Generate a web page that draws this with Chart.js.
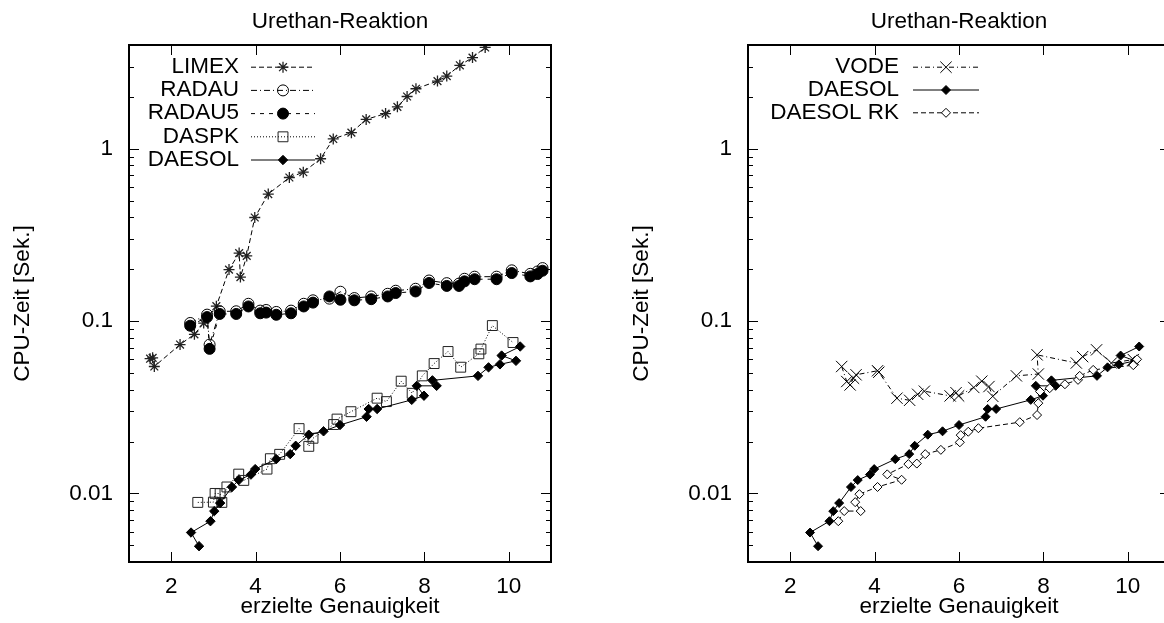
<!DOCTYPE html>
<html>
<head>
<meta charset="utf-8">
<script src="https://cdn.jsdelivr.net/npm/chart.js@4.4.0/dist/chart.umd.min.js"></script>
<style>
  html, body { margin: 0; padding: 0; background: #fff; overflow: hidden; }
  body { width: 1164px; height: 623px; position: relative; }
  canvas { position: absolute; top: 0; }
  #leftCanvas { left: 1px; }
  #rightCanvas { left: 620px; }
</style>
</head>
<body>
<canvas id="leftCanvas" width="560" height="623"></canvas>
<canvas id="rightCanvas" width="560" height="623"></canvas>
<script>
// values: x = erzielte Genauigkeit, y = CPU-Zeit [Sek.]
const limexAcc = [1.50, 1.56, 1.60, 2.21, 2.55, 2.77, 3.07, 3.37, 3.61, 3.64, 3.79, 3.98, 4.30, 4.80, 5.13, 5.54, 5.84, 6.27, 6.62, 7.08, 7.36, 7.59, 7.80, 8.31, 8.53, 8.84, 9.14, 9.44];
const limexCpu = [0.0605, 0.0612, 0.0545, 0.0731, 0.0838, 0.0974, 0.122, 0.199, 0.248, 0.180, 0.239, 0.399, 0.546, 0.681, 0.731, 0.875, 1.14, 1.24, 1.48, 1.60, 1.75, 2.01, 2.23, 2.47, 2.64, 3.05, 3.38, 3.87];

const radauAcc = [2.45, 2.85, 2.91, 3.15, 3.54, 3.83, 4.11, 4.25, 4.49, 4.84, 5.14, 5.36, 5.75, 6.01, 6.34, 6.74, 7.13, 7.32, 7.79, 8.11, 8.53, 8.82, 8.95, 9.19, 9.71, 10.07, 10.51, 10.68, 10.80];
const radauCpu = [0.0975, 0.109, 0.0730, 0.114, 0.114, 0.126, 0.115, 0.116, 0.113, 0.115, 0.126, 0.132, 0.135, 0.148, 0.136, 0.139, 0.144, 0.150, 0.154, 0.172, 0.166, 0.165, 0.176, 0.181, 0.181, 0.197, 0.188, 0.194, 0.203];

const radau5Acc = [2.45, 2.85, 2.91, 3.15, 3.54, 3.83, 4.11, 4.25, 4.49, 4.84, 5.14, 5.36, 5.75, 6.01, 6.34, 6.74, 7.13, 7.32, 7.79, 8.11, 8.53, 8.82, 8.95, 9.19, 9.71, 10.07, 10.51, 10.68, 10.80];
const radau5Cpu = [0.0940, 0.1055, 0.0690, 0.110, 0.110, 0.1216, 0.111, 0.112, 0.1088, 0.111, 0.1216, 0.128, 0.139, 0.133, 0.132, 0.134, 0.139, 0.1455, 0.1486, 0.1664, 0.160, 0.160, 0.170, 0.175, 0.175, 0.190, 0.1817, 0.1875, 0.196];

const daspkAcc = [2.63, 3.00, 3.04, 3.16, 3.20, 3.32, 3.60, 3.72, 4.27, 4.35, 4.57, 5.03, 5.26, 5.36, 5.85, 5.93, 6.26, 6.88, 7.10, 7.45, 7.71, 7.95, 8.23, 8.56, 8.86, 9.29, 9.34, 9.61, 10.10];
const daspkCpu = [0.00887, 0.0089, 0.0100, 0.00997, 0.00887, 0.0109, 0.01294, 0.0119, 0.01384, 0.0159, 0.01686, 0.02377, 0.01876, 0.0209, 0.0251, 0.0270, 0.0298, 0.0357, 0.0341, 0.0448, 0.0381, 0.0481, 0.0567, 0.0666, 0.0540, 0.0646, 0.0688, 0.0942, 0.0751];

// DAESOL is the same run in both panels, listed in order of CPU time
const daesolAcc = [2.66, 2.47, 2.93, 3.02, 3.16, 3.44, 3.60, 3.89, 3.99, 4.49, 4.82, 4.95, 5.26, 5.61, 6.00, 6.63, 6.68, 6.88, 7.70, 7.99, 7.82, 8.29, 8.19, 9.27, 9.52, 9.79, 10.17, 9.83, 10.27];
const daesolCpu = [0.00494, 0.00593, 0.0069, 0.00789, 0.00879, 0.01089, 0.01195, 0.01286, 0.01384, 0.01581, 0.01691, 0.0189, 0.02192, 0.02293, 0.02494, 0.02786, 0.0309, 0.0309, 0.0349, 0.0369, 0.0421, 0.0421, 0.0453, 0.0481, 0.0539, 0.0561, 0.0588, 0.0631, 0.0712];

const vodeAcc = [3.22, 3.34, 3.42, 3.50, 3.56, 4.07, 4.10, 4.53, 4.83, 5.02, 5.18, 5.79, 5.93, 5.99, 6.35, 6.54, 6.71, 6.80, 7.36, 7.88, 7.85, 8.78, 8.93, 9.26, 9.61, 10.13];
const vodeCpu = [0.0545, 0.0446, 0.0426, 0.0466, 0.0488, 0.0515, 0.0505, 0.0357, 0.0347, 0.0376, 0.0392, 0.0368, 0.0384, 0.0368, 0.0412, 0.0448, 0.0417, 0.0366, 0.0481, 0.0493, 0.0637, 0.0571, 0.0622, 0.0681, 0.0571, 0.0598];

const rkAcc = [3.14, 3.28, 3.67, 3.54, 3.64, 4.07, 4.64, 4.30, 4.80, 5.00, 5.20, 5.57, 6.02, 6.04, 6.22, 6.46, 7.44, 7.85, 7.88, 7.92, 8.15, 8.51, 8.82, 8.86, 9.18, 10.13, 10.22];
const rkCpu = [0.0069, 0.0079, 0.0079, 0.0089, 0.0099, 0.0109, 0.0120, 0.0129, 0.0148, 0.0149, 0.0169, 0.0179, 0.0198, 0.0218, 0.0228, 0.0239, 0.0259, 0.0285, 0.0334, 0.0390, 0.0408, 0.0430, 0.0456, 0.0481, 0.0521, 0.0555, 0.0600];

// axes
const xTicks = [2, 4, 6, 8, 10];
const yMajorTicks = [0.01, 0.1, 1];
const yTickLabels = ['0.01', '0.1', '1'];
const yMinorTicks = [0.004, 0.005, 0.006, 0.007, 0.008, 0.009, 0.02, 0.03, 0.04, 0.05, 0.06, 0.07, 0.08, 0.09, 0.2, 0.3, 0.4, 0.5, 0.6, 0.7, 0.8, 0.9, 2, 3, 4];
const titleText = 'Urethan-Reaktion';
const xTitle = 'erzielte Genauigkeit';
const yTitle = 'CPU-Zeit [Sek.]';

const FONT = '"Liberation Sans", Arial, Helvetica, sans-serif';
const FONT_SIZE = 22.5;
const HALF_LINE = FONT_SIZE * 1.2 / 2;   // chart.js centres titles on half a line

function points(acc, cpu) {
    return acc.map((x, i) => ({x: x, y: cpu[i]}));
}

function series(label, acc, cpu, style) {
    return Object.assign({
        label: label,
        data: points(acc, cpu),
        showLine: true,
        borderColor: '#000',
        borderWidth: 1,
        pointBorderColor: '#000',
        pointBorderWidth: 1,
        pointBackgroundColor: 'rgba(0,0,0,0)',
        pointHoverRadius: 0
    }, style);
}

// gnuplot-like frame: inward ticks on all four sides
const framePlugin = {
    id: 'frame',
    afterDatasetsDraw(chart) {
        const ctx = chart.ctx;
        const a = chart.chartArea;
        const xs = chart.scales.x, ys = chart.scales.y;
        ctx.save();
        ctx.strokeStyle = '#000';
        ctx.lineWidth = 1;
        ctx.setLineDash([]);
        ctx.beginPath();
        xs.ticks.forEach(t => {
            const px = Math.round(xs.getPixelForValue(t.value)) + 0.5;
            ctx.moveTo(px, a.bottom); ctx.lineTo(px, a.bottom - 10);
            ctx.moveTo(px, a.top); ctx.lineTo(px, a.top + 10);
        });
        ys.ticks.forEach(t => {
            const py = Math.round(ys.getPixelForValue(t.value)) + 0.5;
            const len = yMajorTicks.includes(t.value) ? 10 : 5;
            ctx.moveTo(a.left, py); ctx.lineTo(a.left + len, py);
            ctx.moveTo(a.right, py); ctx.lineTo(a.right - len, py);
        });
        ctx.stroke();
        ctx.lineWidth = 2;
        ctx.strokeRect(a.left, a.top, a.right - a.left, a.bottom - a.top);
        ctx.restore();
    }
};

// key drawn the gnuplot way: text right aligned, line sample with its marker
const keyPlugin = {
    id: 'gpkey',
    afterDraw(chart, args, opts) {
        const ctx = chart.ctx;
        ctx.save();
        ctx.font = FONT_SIZE + 'px ' + FONT;
        ctx.textAlign = 'right';
        ctx.textBaseline = 'middle';
        ctx.fillStyle = '#000';
        chart.data.datasets.forEach((ds, i) => {
            const y = opts.top + i * opts.rowHeight;
            ctx.fillText(ds.label, opts.textRight, y);
            ctx.beginPath();
            ctx.setLineDash(ds.borderDash || []);
            ctx.lineWidth = 1;
            ctx.strokeStyle = '#000';
            ctx.moveTo(opts.lineStart, y + 0.5);
            ctx.lineTo(opts.lineEnd, y + 0.5);
            ctx.stroke();
            ctx.setLineDash([]);
            ctx.fillStyle = ds.pointBackgroundColor;
            ctx.strokeStyle = ds.pointBorderColor;
            ctx.lineWidth = ds.pointBorderWidth;
            Chart.helpers.drawPoint(ctx, {
                pointStyle: ds.pointStyle,
                radius: ds.pointRadius,
                borderWidth: ds.pointBorderWidth,
                rotation: 0
            }, (opts.lineStart + opts.lineEnd) / 2, y + 0.5);
            ctx.fillStyle = '#000';
        });
        ctx.restore();
    }
};

function makeOptions(key) {
    return {
        responsive: false,
        animation: false,
        events: [],
        layout: {padding: {left: 0, right: 10, top: 0, bottom: 0}},
        plugins: {
            legend: {display: false},
            tooltip: {enabled: false},
            title: {
                display: true,
                text: titleText,
                fullSize: false,
                color: '#000',
                font: {family: FONT, size: FONT_SIZE, weight: 'normal'},
                padding: {top: 22 - HALF_LINE, bottom: 45 - 22 - HALF_LINE}
            },
            gpkey: key
        },
        scales: {
            x: {
                type: 'linear',
                min: 1,
                max: 11,
                grid: {display: false, drawTicks: false},
                border: {display: false},
                afterBuildTicks: s => { s.ticks = xTicks.map(v => ({value: v})); },
                afterFit: s => { s.height = 61; },
                ticks: {
                    autoSkip: false,
                    maxRotation: 0,
                    padding: 24.7 - HALF_LINE,
                    color: '#000',
                    font: {family: FONT, size: FONT_SIZE},
                    callback: v => String(v)
                },
                title: {
                    display: true,
                    text: xTitle,
                    color: '#000',
                    font: {family: FONT, size: FONT_SIZE},
                    padding: {top: 0, bottom: 16 - HALF_LINE}
                }
            },
            y: {
                type: 'logarithmic',
                min: 0.004,
                max: 4,
                grid: {display: false, drawTicks: false},
                border: {display: false},
                afterBuildTicks: s => {
                    s.ticks = yMinorTicks.concat(yMajorTicks)
                        .sort((a, b) => a - b)
                        .map(v => ({value: v}));
                },
                afterFit: s => { s.width = 128; },
                ticks: {
                    autoSkip: false,
                    padding: 16,
                    color: '#000',
                    font: {family: FONT, size: FONT_SIZE},
                    callback: v => {
                        const i = yMajorTicks.indexOf(v);
                        return i >= 0 ? yTickLabels[i] : '';
                    }
                },
                title: {
                    display: true,
                    text: yTitle,
                    color: '#000',
                    font: {family: FONT, size: FONT_SIZE},
                    padding: {top: 22 - HALF_LINE, bottom: 0}
                }
            }
        }
    };
}

document.addEventListener('DOMContentLoaded', function() {
    // left panel
    new Chart(document.getElementById('leftCanvas').getContext('2d'), {
        type: 'scatter',
        data: {
            datasets: [
                series('LIMEX', limexAcc, limexCpu, {borderDash: [5, 3], pointStyle: 'star', pointRadius: 5.5, pointBorderWidth: 1.3, pointBorderColor: '#222', order: 5}),
                series('RADAU', radauAcc, radauCpu, {borderDash: [6, 3, 1, 3], pointStyle: 'circle', pointRadius: 5.5, order: 4}),
                series('RADAU5', radau5Acc, radau5Cpu, {borderDash: [4, 5], pointStyle: 'circle', pointRadius: 5.5, pointBackgroundColor: '#000', order: 3}),
                series('DASPK', daspkAcc, daspkCpu, {borderDash: [1, 2], pointStyle: 'rect', pointRadius: 7, pointBorderColor: '#222', order: 2}),
                series('DAESOL', daesolAcc, daesolCpu, {borderDash: [], pointStyle: 'rectRot', pointRadius: 4.7, pointBackgroundColor: '#000', order: 1})
            ]
        },
        options: makeOptions({textRight: 238, top: 66.7, rowHeight: 23.2, lineStart: 250, lineEnd: 314}),
        plugins: [framePlugin, keyPlugin]
    });

    // right panel, cut off at the window edge like the original
    new Chart(document.getElementById('rightCanvas').getContext('2d'), {
        type: 'scatter',
        data: {
            datasets: [
                series('VODE', vodeAcc, vodeCpu, {borderDash: [5, 3, 1, 3], pointStyle: 'crossRot', pointRadius: 8, order: 3}),
                series('DAESOL', daesolAcc, daesolCpu, {borderDash: [], pointStyle: 'rectRot', pointRadius: 4.5, pointBackgroundColor: '#000', order: 2}),
                series('DAESOL RK', rkAcc, rkCpu, {borderDash: [5, 3], pointStyle: 'rectRot', pointRadius: 4.5, pointBackgroundColor: '#fff', order: 1})
            ]
        },
        options: makeOptions({textRight: 279, top: 66.7, rowHeight: 22.8, lineStart: 293, lineEnd: 359}),
        plugins: [framePlugin, keyPlugin]
    });
});
</script>
</body>
</html>
